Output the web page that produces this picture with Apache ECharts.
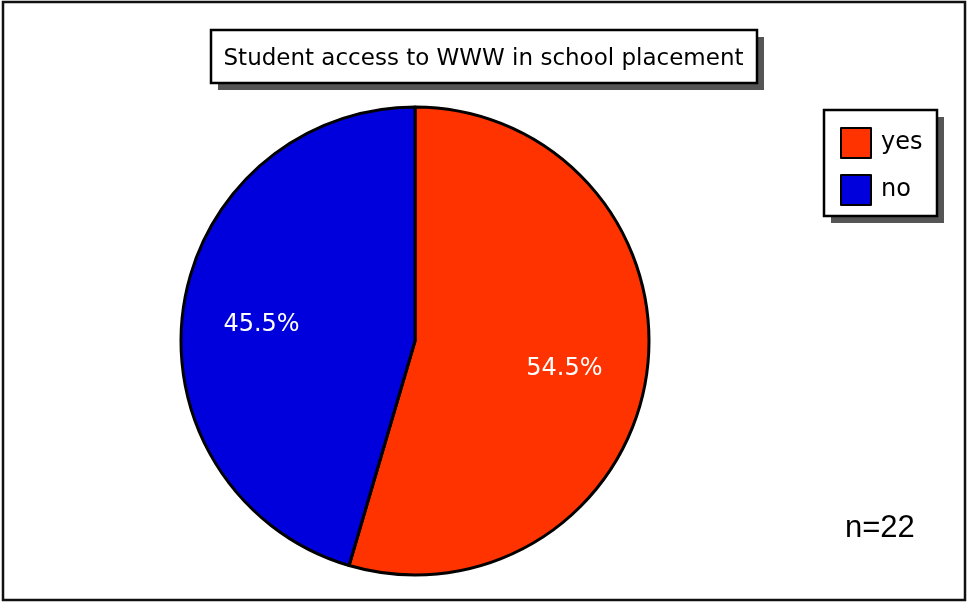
<!DOCTYPE html>
<html>
<head>
<meta charset="utf-8">
<script src="https://cdn.jsdelivr.net/npm/echarts@6/dist/echarts.min.js"></script>
<style>
  html, body { margin: 0; padding: 0; background: #fff; }
  #chart { width: 967px; height: 602px; }
</style>
</head>
<body>
<div id="chart"></div>
<script>
// Survey answers: does the student have WWW access at the school placement?
const categories = ['yes', 'no'];
const counts = [12, 10];
const colors = ['#ff3300', '#0000dd'];
const chartTitle = 'Student access to WWW in school placement';
const sampleNote = 'n=22';

const total = counts.reduce((a, b) => a + b, 0);
const pieData = categories.map((name, i) => ({
  name: name,
  value: counts[i],
  itemStyle: { color: colors[i] }
}));

const chart = echarts.init(document.getElementById('chart'), null, { renderer: 'canvas' });

// framed box with a hard drop shadow, drawn behind title / legend
function shadowBox(x, y, w, h) {
  return [
    {
      type: 'rect', silent: true, z: -5,
      shape: { x: x + 7, y: y + 7, width: w, height: h },
      style: { fill: '#555555' }
    },
    {
      type: 'rect', silent: true, z: -4,
      shape: { x: x, y: y, width: w, height: h },
      style: { fill: '#ffffff', stroke: '#000000', lineWidth: 2.5 }
    }
  ];
}

chart.setOption({
  animation: false,
  backgroundColor: '#ffffff',
  title: {
    text: chartTitle,
    left: 'center',
    top: 47,
    padding: 0,
    textStyle: {
      fontFamily: 'DejaVu Sans',
      fontSize: 23,
      fontWeight: 'normal',
      color: '#000000',
      lineHeight: 24
    }
  },
  legend: {
    orient: 'vertical',
    left: 840,
    top: 127,
    padding: 0,
    itemWidth: 30,
    itemHeight: 30,
    itemGap: 15,
    icon: 'rect',
    itemStyle: { borderColor: '#000000', borderWidth: 2 },
    textStyle: {
      fontFamily: 'DejaVu Sans',
      fontSize: 24,
      color: '#000000',
      padding: [0, 0, 0, 5]
    },
    data: categories
  },
  graphic: [
    {
      type: 'rect',
      silent: true,
      z: -10,
      shape: { x: 3, y: 2, width: 962, height: 598 },
      style: { fill: 'none', stroke: '#111111', lineWidth: 2.5 }
    },
    ...shadowBox(211, 30, 546, 53),
    ...shadowBox(824, 110, 113, 106),
    {
      type: 'text',
      left: 845,
      top: 513,
      style: {
        text: sampleNote,
        fontFamily: 'Liberation Sans',
        fontSize: 31,
        fill: '#000000'
      }
    }
  ],
  series: [
    {
      type: 'pie',
      center: [415, 341],
      radius: [0, 234],
      startAngle: 90,
      clockwise: true,
      label: { show: false },
      labelLine: { show: false },
      itemStyle: { borderColor: '#000000', borderWidth: 3 },
      emphasis: { disabled: true },
      data: pieData
    },
    {
      // transparent ring used only to place the percentage labels
      type: 'pie',
      center: [413, 347],
      radius: [66, 234],
      startAngle: 90,
      clockwise: true,
      silent: true,
      itemStyle: { color: 'rgba(0,0,0,0)', borderWidth: 0 },
      labelLine: { show: false },
      label: {
        show: true,
        position: 'inside',
        color: '#ffffff',
        fontFamily: 'DejaVu Sans',
        fontSize: 24,
        formatter: p => (p.value / total * 100).toFixed(1) + '%'
      },
      emphasis: { disabled: true },
      data: pieData.map(d => ({ name: d.name, value: d.value }))
    }
  ]
});
</script>
</body>
</html>
